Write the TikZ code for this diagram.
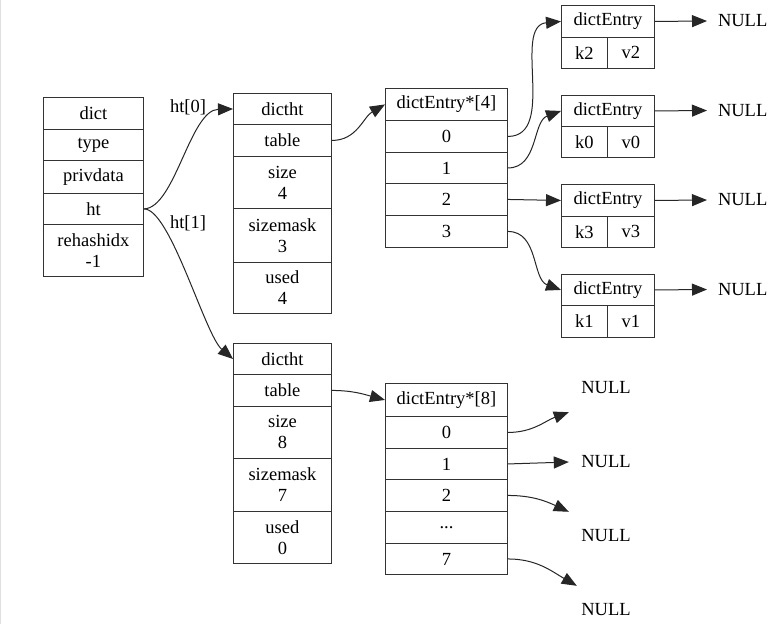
\documentclass[tikz,border=0pt]{standalone}
\usepackage{fontspec}
\setmainfont{Liberation Serif}
\usetikzlibrary{arrows.meta}
\tikzset{
  cell/.style={draw=black!80, line width=0.9pt, inner sep=0pt, anchor=north west, align=center,
    font=\fontsize{18.5}{21}\selectfont},
  nulltxt/.style={inner sep=0pt, font=\fontsize{18.5}{21}\selectfont},
  lbl/.style={inner sep=0pt, font=\fontsize{18.5}{21}\selectfont},
  conn/.style={draw=black!85, line width=1pt, -{Triangle[length=15pt,width=12pt]}}
}
\begin{document}
\begin{tikzpicture}[x=1pt,y=-1pt]
\useasboundingbox (0,0) rectangle (777,624);
\fill[white] (0,0) rectangle (777,624);
\draw[black!12, line width=0.8pt] (0.5,0) -- (0.5,624);

% dict
\node[cell, minimum width=100pt, minimum height=32pt] (dict) at (43,97) {dict};
\node[cell, minimum width=100pt, minimum height=31pt] (type) at (43,129) {type};
\node[cell, minimum width=100pt, minimum height=33pt] (priv) at (43,160) {privdata};
\node[cell, minimum width=100pt, minimum height=31pt] (ht) at (43,193) {ht};
\node[cell, minimum width=100pt, minimum height=52pt] (rehash) at (43,224) {rehashidx\\-1};

% dictht 0
\node[cell, minimum width=98pt, minimum height=31pt] (a0) at (233,93) {dictht};
\node[cell, minimum width=98pt, minimum height=32pt] (atable) at (233,124) {table};
\node[cell, minimum width=98pt, minimum height=52pt] (asize) at (233,156) {size\\4};
\node[cell, minimum width=98pt, minimum height=54pt] (amask) at (233,208) {sizemask\\3};
\node[cell, minimum width=98pt, minimum height=51pt] (aused) at (233,262) {used\\4};

% dictht 1
\node[cell, minimum width=98pt, minimum height=31pt] (b0) at (233,343) {dictht};
\node[cell, minimum width=98pt, minimum height=32pt] (btable) at (233,374) {table};
\node[cell, minimum width=98pt, minimum height=52pt] (bsize) at (233,406) {size\\8};
\node[cell, minimum width=98pt, minimum height=53pt] (bmask) at (233,458) {sizemask\\7};
\node[cell, minimum width=98pt, minimum height=52pt] (bused) at (233,511) {used\\0};

% dictEntry*[4]
\node[cell, minimum width=122pt, minimum height=32pt] (ah) at (385,88) {dictEntry*[4]};
\node[cell, minimum width=122pt, minimum height=32pt] (ar0) at (385,120) {0};
\node[cell, minimum width=122pt, minimum height=31pt] (ar1) at (385,152) {1};
\node[cell, minimum width=122pt, minimum height=32pt] (ar2) at (385,183) {2};
\node[cell, minimum width=122pt, minimum height=32pt] (ar3) at (385,215) {3};

% dictEntry*[8]
\node[cell, minimum width=122pt, minimum height=33pt] (bh) at (385,383) {dictEntry*[8]};
\node[cell, minimum width=122pt, minimum height=32pt] (br0) at (385,416) {0};
\node[cell, minimum width=122pt, minimum height=31pt] (br1) at (385,448) {1};
\node[cell, minimum width=122pt, minimum height=32pt] (br2) at (385,479) {2};
\node[cell, minimum width=122pt, minimum height=32pt] (br3) at (385,511) {...};
\node[cell, minimum width=122pt, minimum height=31pt] (br7) at (385,543) {7};

% dictEntry boxes
\node[cell, minimum width=93pt, minimum height=32pt] (e1) at (561,5) {dictEntry};
\node[cell, minimum width=46pt, minimum height=31pt] (e1k) at (561,37) {k2};
\node[cell, minimum width=47pt, minimum height=31pt] (e1v) at (607,37) {v2};

\node[cell, minimum width=93pt, minimum height=31pt] (e2) at (561,95) {dictEntry};
\node[cell, minimum width=46pt, minimum height=31pt] (e2k) at (561,126) {k0};
\node[cell, minimum width=47pt, minimum height=31pt] (e2v) at (607,126) {v0};

\node[cell, minimum width=93pt, minimum height=32pt] (e3) at (561,184) {dictEntry};
\node[cell, minimum width=46pt, minimum height=31pt] (e3k) at (561,216) {k3};
\node[cell, minimum width=47pt, minimum height=31pt] (e3v) at (607,216) {v3};

\node[cell, minimum width=93pt, minimum height=31pt] (e4) at (561,274) {dictEntry};
\node[cell, minimum width=46pt, minimum height=32pt] (e4k) at (561,305) {k1};
\node[cell, minimum width=47pt, minimum height=32pt] (e4v) at (607,305) {v1};

% NULL nodes (right)
\node[nulltxt, anchor=west, outer xsep=11pt] (n1) at (707,21) {NULL};
\node[nulltxt, anchor=west, outer xsep=11pt] (n2) at (707,110.5) {NULL};
\node[nulltxt, anchor=west, outer xsep=11pt] (n3) at (707,200) {NULL};
\node[nulltxt, anchor=west, outer xsep=11pt] (n4) at (707,289.5) {NULL};

% NULL nodes (bottom)
\node[nulltxt, minimum width=74pt, minimum height=48pt] (m0) at (606,388) {NULL};
\node[nulltxt, minimum width=74pt, minimum height=48pt] (m1) at (606,462) {NULL};
\node[nulltxt, minimum width=74pt, minimum height=48pt] (m2) at (606,536) {NULL};
\node[nulltxt, minimum width=74pt, minimum height=48pt] (m7) at (606,610) {NULL};

% labels
\node[lbl] (l0) at (188,107) {ht[0]};
\node[lbl] (l1) at (188,223) {ht[1]};

% connectors
\draw[conn] (ht.east) .. controls (175,208) and (190,110) .. (a0.west);
\draw[conn] (ht.east) .. controls (170,208) and (205,335) .. (b0.west);
\draw[conn] (atable.east) to[out=0, in=210] (ah.west);
\draw[conn] (btable.east) to[out=0, in=165] (bh.west);

\draw[conn] (ar0.east) to[out=0, in=185] (e1.west);
\draw[conn] (ar1.east) to[out=0, in=200] (e2.west);
\draw[conn] (ar2.east) -- (e3.west);
\draw[conn] (ar3.east) to[out=0, in=160] (e4.west);

\draw[conn] (e1.east) -- (n1.west);
\draw[conn] (e2.east) -- (n2.west);
\draw[conn] (e3.east) -- (n3.west);
\draw[conn] (e4.east) -- (n4.west);

\draw[conn] (br0.east) to[out=0, in=200] (m0.south west);
\draw[conn] (br1.east) -- (m1.west);
\draw[conn] (br2.east) to[out=0, in=155] (m2.north west);
\draw[conn] (br7.east) to[out=0, in=150] ([xshift=8pt]m7.north west);
\end{tikzpicture}
\end{document}
